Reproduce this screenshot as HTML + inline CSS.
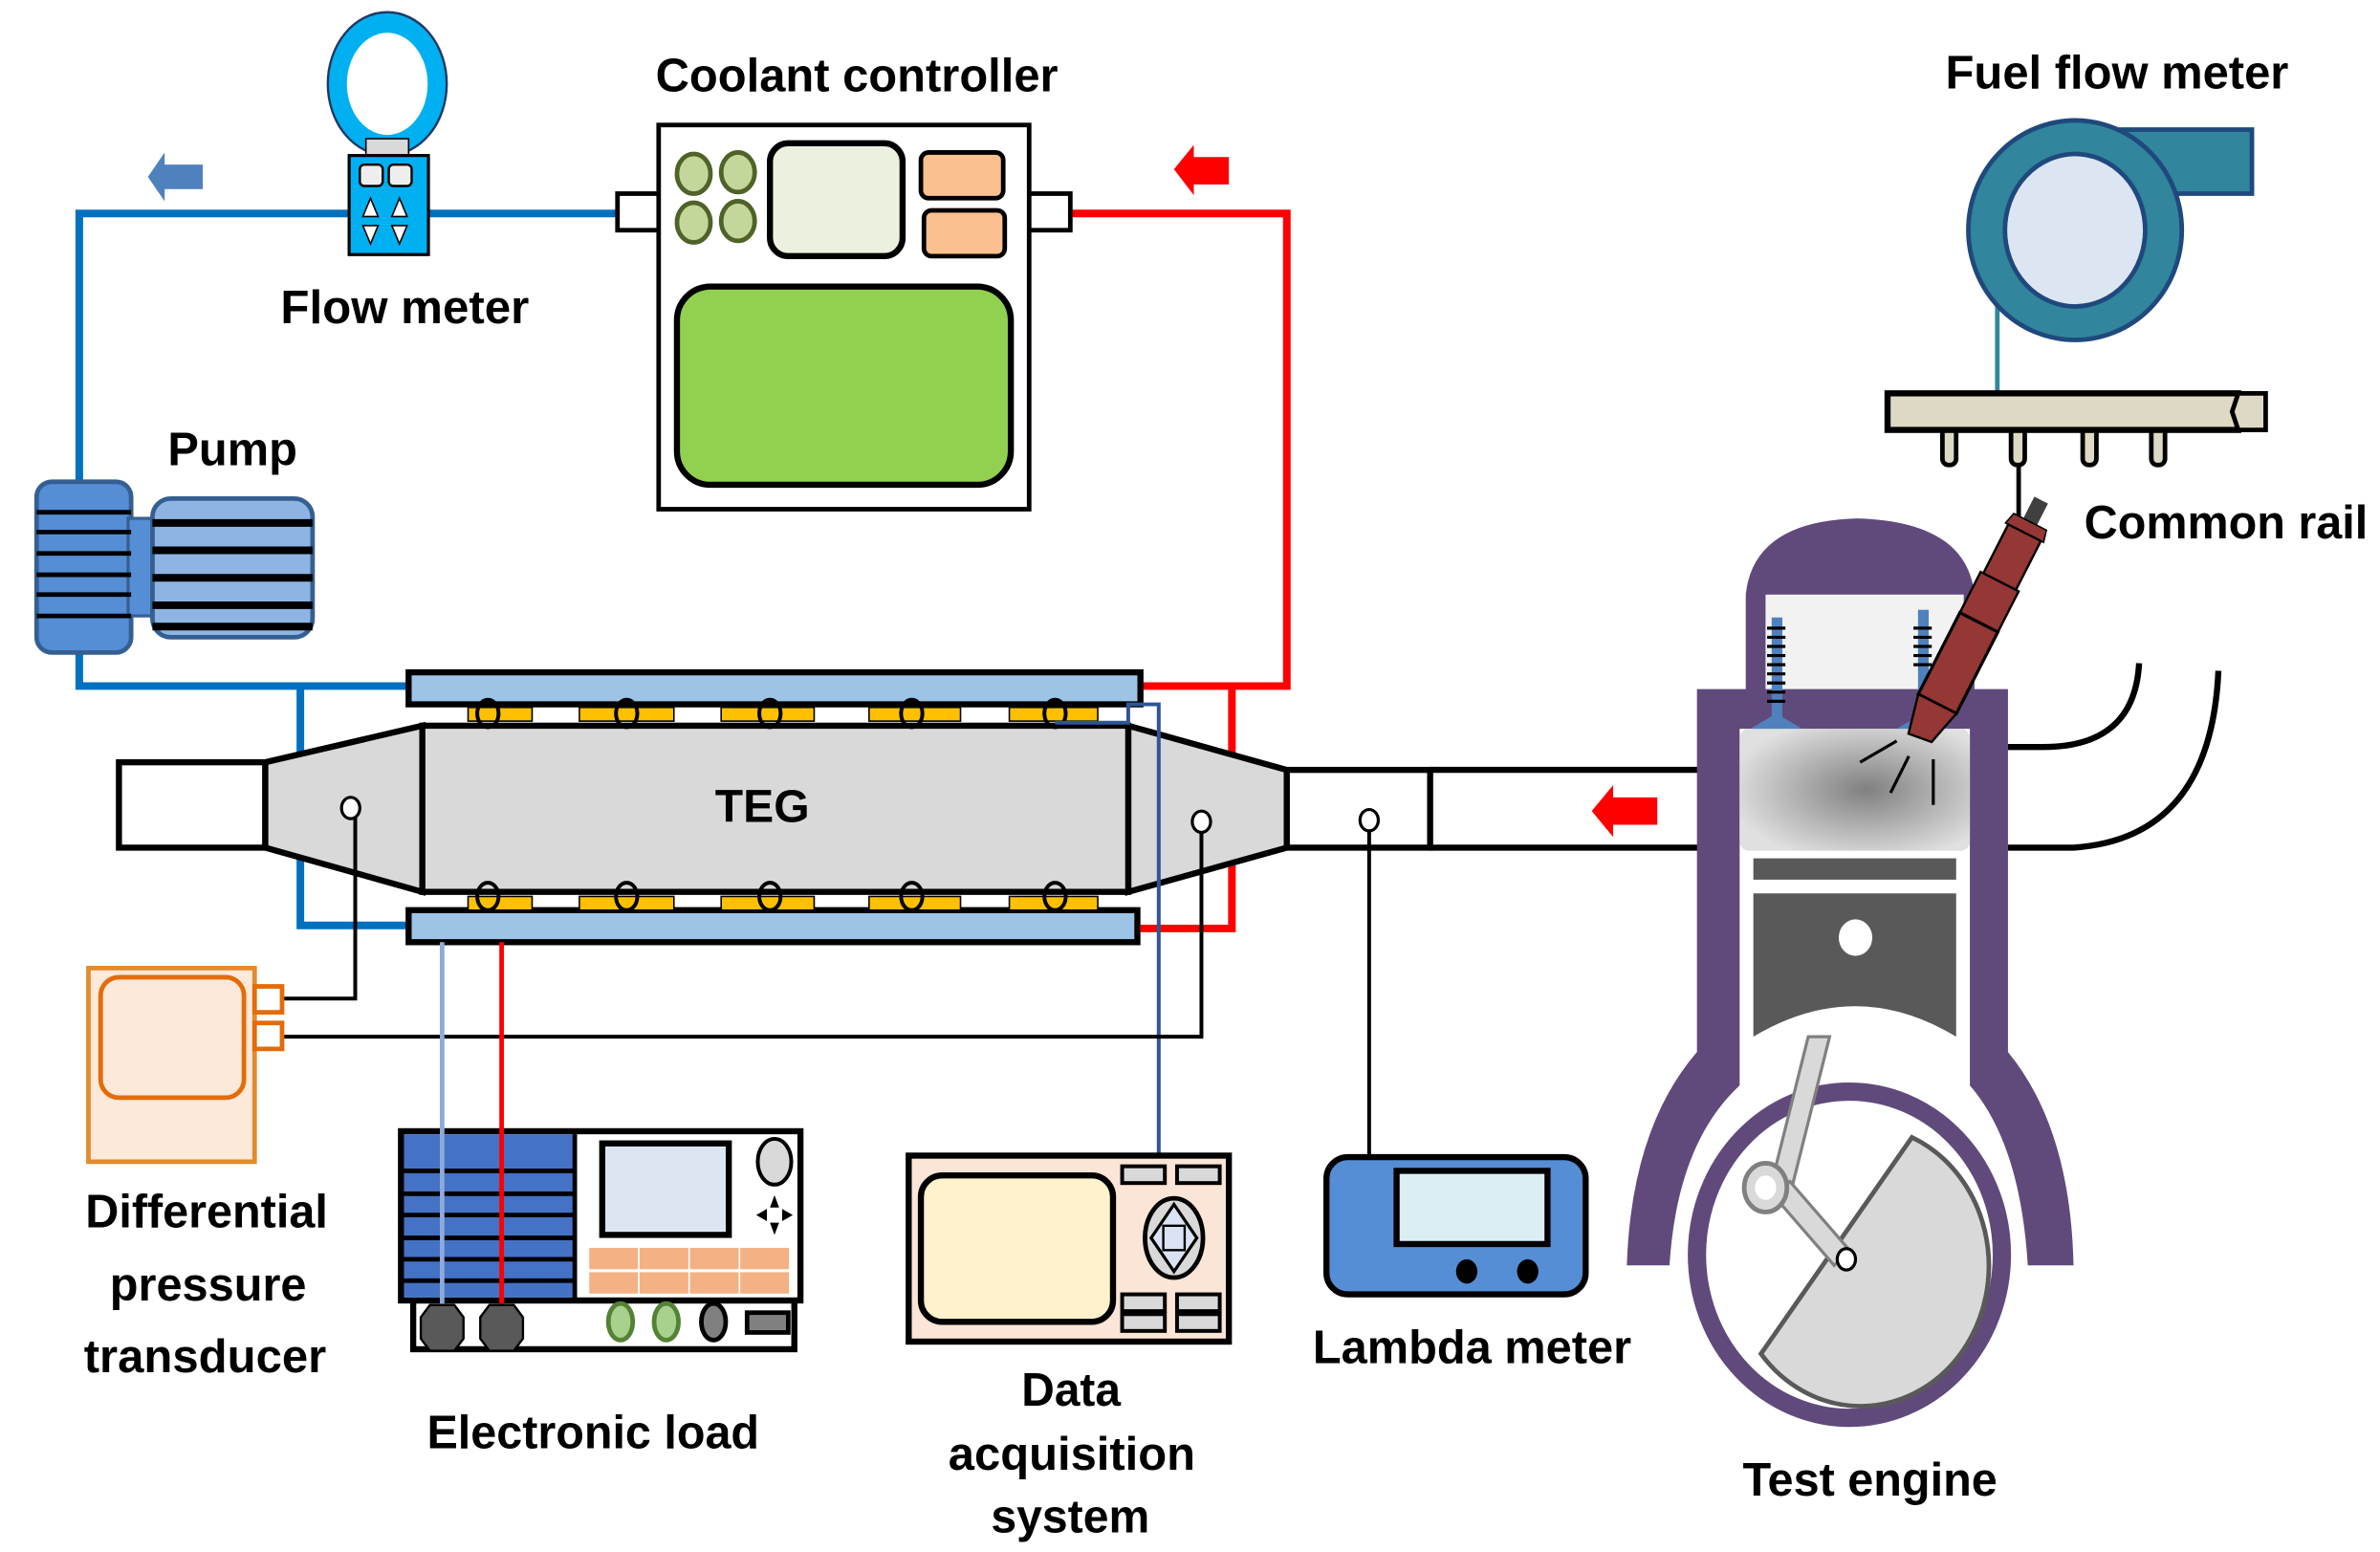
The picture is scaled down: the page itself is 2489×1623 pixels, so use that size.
<!DOCTYPE html>
<html><head><meta charset="utf-8"><style>html,body{margin:0;padding:0;background:#fff}svg{display:block}text{font-family:"Liberation Sans Narrow","Liberation Sans",sans-serif;font-weight:bold;fill:#000}</style></head><body>
<svg width="2489" height="1623" viewBox="0 0 1561 1018" preserveAspectRatio="none" xmlns="http://www.w3.org/2000/svg">
<defs><radialGradient id="cg" cx="0.55" cy="0.5" r="0.6"><stop offset="0" stop-color="#808080"/><stop offset="1" stop-color="#e0e0e0"/></radialGradient></defs>
<rect width="1561" height="1018" fill="#fff"/>
<g fill="none" stroke="#0070c0" stroke-width="5">
<path d="M405 140 H52 V318"/><path d="M52 428 V450 H270"/><path d="M197 450 V607 H270"/>
</g>
<polygon points="97,116 108,100 108,108 133,108 133,124 108,124 108,132" fill="#4f81bd"/>
<g fill="none" stroke="#ff0000" stroke-width="5"><path d="M702 140 H844 V450 H748"/><path d="M808 450 V609 H748"/></g>
<polygon points="770,111 783,95 783,103 806,103 806,121 783,121 783,128" fill="#ff0000"/>
<ellipse cx="254" cy="55" rx="33" ry="40" fill="#fff" stroke="#00b0f0" stroke-width="13"/>
<ellipse cx="254" cy="55" rx="39" ry="47" fill="none" stroke="#1f3864" stroke-width="1.5"/>
<rect x="240" y="91" width="28" height="12" fill="#d9d9d9" stroke="#000" stroke-width="1"/>
<rect x="229" y="102" width="52" height="65" fill="#00b0f0" stroke="#000" stroke-width="2"/>
<rect x="236" y="108" width="15" height="14" rx="3" fill="#eee" stroke="#000" stroke-width="1.5"/><rect x="255" y="108" width="15" height="14" rx="3" fill="#eee" stroke="#000" stroke-width="1.5"/>
<g fill="#fff" stroke="#000" stroke-width="1"><polygon points="243,130 238,142 248,142"/><polygon points="262,130 257,142 267,142"/><polygon points="243,160 238,148 248,148"/><polygon points="262,160 257,148 267,148"/></g>
<rect x="24" y="316" width="62" height="112" rx="10" fill="#558ed5" stroke="#365f91" stroke-width="3"/>
<rect x="84" y="340" width="20" height="64" fill="#558ed5" stroke="#365f91" stroke-width="2"/>
<rect x="100" y="327" width="105" height="91" rx="12" fill="#8eb4e3" stroke="#365f91" stroke-width="3"/>
<g stroke="#000" stroke-width="3"><path d="M24 336H86M24 349H86M24 363H86M24 377H86M24 390H86M24 404H86"/></g>
<g stroke="#000" stroke-width="5"><path d="M100 343H205M100 361H205M100 379H205M100 397H205M100 411H205"/></g>
<rect x="405" y="127" width="30" height="24" fill="#fff" stroke="#000" stroke-width="3"/>
<rect x="672" y="127" width="30" height="24" fill="#fff" stroke="#000" stroke-width="3"/>
<rect x="432" y="82" width="243" height="252" fill="#fff" stroke="#000" stroke-width="3"/>
<g fill="#c4d79b" stroke="#4f6228" stroke-width="3"><ellipse cx="455" cy="114" rx="11" ry="13"/><ellipse cx="484" cy="113" rx="11" ry="13"/><ellipse cx="455" cy="146" rx="11" ry="13"/><ellipse cx="484" cy="145" rx="11" ry="13"/></g>
<rect x="505" y="94" width="87" height="74" rx="12" fill="#ebf1de" stroke="#000" stroke-width="4"/>
<rect x="604" y="100" width="54" height="30" rx="5" fill="#fac090" stroke="#000" stroke-width="3"/>
<rect x="606" y="138" width="53" height="30" rx="5" fill="#fac090" stroke="#000" stroke-width="3"/>
<rect x="444" y="188" width="219" height="130" rx="22" fill="#92d050" stroke="#000" stroke-width="4"/>
<rect x="78" y="500" width="96" height="56" fill="#fff" stroke="#000" stroke-width="4"/>
<polygon points="174,500 277,476 277,585 174,556" fill="#d9d9d9" stroke="#000" stroke-width="4"/>
<polygon points="740,476 844,505 844,556 740,585" fill="#d9d9d9" stroke="#000" stroke-width="4"/>
<rect x="844" y="505" width="94" height="51" fill="#fff" stroke="#000" stroke-width="4"/>
<path d="M938 505H1115M938 556H1115" stroke="#000" stroke-width="4"/>
<polygon points="1044,532 1058,515 1058,523 1087,523 1087,541 1058,541 1058,549" fill="#ff0000"/>
<rect x="268" y="441" width="480" height="21" fill="#9dc3e6" stroke="#000" stroke-width="4"/>
<rect x="268" y="597" width="478" height="21" fill="#9dc3e6" stroke="#000" stroke-width="4"/>
<g fill="#ffc000" stroke="#000" stroke-width="1"><rect x="307" y="464" width="42" height="9"/><rect x="380" y="464" width="62" height="9"/><rect x="473" y="464" width="61" height="9"/><rect x="570" y="464" width="60" height="9"/><rect x="662" y="464" width="58" height="9"/>
<rect x="307" y="588" width="42" height="9"/><rect x="380" y="588" width="62" height="9"/><rect x="473" y="588" width="61" height="9"/><rect x="570" y="588" width="60" height="9"/><rect x="662" y="588" width="58" height="9"/></g>
<rect x="277" y="476" width="463" height="109" fill="#d9d9d9" stroke="#000" stroke-width="4"/>
<g fill="none" stroke="#000" stroke-width="2.5"><ellipse cx="320" cy="468" rx="7" ry="9"/><ellipse cx="411" cy="468" rx="7" ry="9"/><ellipse cx="505" cy="468" rx="7" ry="9"/><ellipse cx="598" cy="468" rx="7" ry="9"/><ellipse cx="692" cy="468" rx="7" ry="9"/>
<ellipse cx="320" cy="588" rx="7" ry="9"/><ellipse cx="411" cy="588" rx="7" ry="9"/><ellipse cx="505" cy="588" rx="7" ry="9"/><ellipse cx="598" cy="588" rx="7" ry="9"/><ellipse cx="692" cy="588" rx="7" ry="9"/></g>
<path d="M692 474H740V462H760V758" fill="none" stroke="#2f5597" stroke-width="2.5"/>
<text x="500" y="539" font-size="30" text-anchor="middle" textLength="62" lengthAdjust="spacingAndGlyphs">TEG</text>
<path d="M185 655H233V535" fill="none" stroke="#000" stroke-width="2.5"/>
<path d="M185 680H788V545" fill="none" stroke="#000" stroke-width="2.5"/>
<path d="M898 538V758" stroke="#000" stroke-width="2.5"/>
<g fill="#fff" stroke="#000" stroke-width="2"><ellipse cx="230" cy="530" rx="6" ry="7"/><ellipse cx="788" cy="539" rx="6" ry="7"/><ellipse cx="898" cy="538" rx="6" ry="7"/></g>
<rect x="58" y="635" width="109" height="127" fill="#fde9d9" stroke="#e38b2d" stroke-width="3"/>
<rect x="66" y="641" width="94" height="79" rx="12" fill="#fde9d9" stroke="#e36c09" stroke-width="3"/>
<rect x="167" y="647" width="18" height="17" fill="#fff" stroke="#e36c09" stroke-width="3"/><rect x="167" y="671" width="18" height="17" fill="#fff" stroke="#e36c09" stroke-width="3"/>
<rect x="271" y="853" width="250" height="32" fill="#fff" stroke="#000" stroke-width="4"/>
<rect x="263" y="742" width="262" height="111" fill="#fff" stroke="#000" stroke-width="4"/>
<rect x="265" y="744" width="112" height="107" fill="#4472c4"/>
<g stroke="#000" stroke-width="3"><path d="M265 768H377M265 783H377M265 797H377M265 812H377M265 826H377M265 840H377M377 744V853"/></g>
<rect x="395" y="750" width="83" height="60" fill="#dce6f2" stroke="#000" stroke-width="4"/>
<ellipse cx="508" cy="762" rx="11" ry="15" fill="#d9d9d9" stroke="#000" stroke-width="2.5"/>
<g fill="#000"><polygon points="508,784 505,792 511,792"/><polygon points="508,810 505,802 511,802"/><polygon points="496,797 503,793 503,801"/><polygon points="520,797 513,793 513,801"/></g>
<g fill="#f4b183" stroke="#fff" stroke-width="1"><rect x="386" y="818" width="33" height="15"/><rect x="419" y="818" width="33" height="15"/><rect x="452" y="818" width="33" height="15"/><rect x="485" y="818" width="33" height="15"/><rect x="386" y="834" width="33" height="15"/><rect x="419" y="834" width="33" height="15"/><rect x="452" y="834" width="33" height="15"/><rect x="485" y="834" width="33" height="15"/></g>
<path d="M290 618V870" stroke="#8eaadb" stroke-width="3"/><path d="M329 618V870" stroke="#ff0000" stroke-width="3"/>
<g fill="#595959" stroke="#000" stroke-width="1.5"><polygon points="282,856 298,856 304,864 304,878 298,886 282,886 276,878 276,864"/><polygon points="321,856 337,856 343,864 343,878 337,886 321,886 315,878 315,864"/></g>
<g stroke-width="3"><ellipse cx="407" cy="867" rx="8" ry="12" fill="#a9d18e" stroke="#548235"/><ellipse cx="437" cy="867" rx="8" ry="12" fill="#a9d18e" stroke="#548235"/><ellipse cx="468" cy="867" rx="8" ry="12" fill="#808080" stroke="#000"/></g>
<rect x="490" y="861" width="27" height="13" fill="#808080" stroke="#000" stroke-width="3"/>
<rect x="596" y="758" width="210" height="122" fill="#fbe5d6" stroke="#000" stroke-width="4"/>
<rect x="604" y="771" width="126" height="96" rx="14" fill="#fff2cc" stroke="#000" stroke-width="4"/>
<g fill="#d9d9d9" stroke="#000" stroke-width="2.5"><rect x="736" y="765" width="28" height="11"/><rect x="772" y="765" width="28" height="11"/><rect x="736" y="849" width="28" height="11"/><rect x="772" y="849" width="28" height="11"/><rect x="736" y="862" width="28" height="11"/><rect x="772" y="862" width="28" height="11"/></g>
<ellipse cx="770" cy="812" rx="19" ry="26" fill="#d9d9d9" stroke="#000" stroke-width="3"/>
<polygon points="770,790 785,812 770,834 755,812" fill="#dae3f3" stroke="#000" stroke-width="2"/>
<rect x="763" y="804" width="14" height="16" fill="#dae3f3" stroke="#000" stroke-width="1.5"/>
<rect x="870" y="759" width="170" height="90" rx="14" fill="#558ed5" stroke="#000" stroke-width="4"/>
<rect x="916" y="768" width="99" height="48" fill="#dbeef4" stroke="#000" stroke-width="4"/>
<ellipse cx="962" cy="834" rx="7" ry="8"/><ellipse cx="1002" cy="834" rx="7" ry="8"/>
<path d="M1310 200V258" stroke="#31859c" stroke-width="3"/>
<rect x="1340" y="85" width="137" height="42" fill="#31859c" stroke="#1f497d" stroke-width="3"/>
<ellipse cx="1361" cy="151" rx="70" ry="72" fill="#31859c" stroke="#1f497d" stroke-width="3"/>
<ellipse cx="1361" cy="151" rx="46" ry="50" fill="#dce6f2" stroke="#1f497d" stroke-width="3"/>
<g fill="#ddd9c4" stroke="#000" stroke-width="3"><rect x="1274" y="280" width="9" height="25" rx="4"/><rect x="1319" y="280" width="9" height="25" rx="4"/><rect x="1366" y="280" width="9" height="25" rx="4"/><rect x="1411" y="280" width="9" height="25" rx="4"/></g>
<rect x="1238" y="258" width="230" height="24" fill="#ddd9c4" stroke="#000" stroke-width="4"/>
<polygon points="1468,258 1486,258 1486,282 1468,282 1464,270" fill="#ddd9c4" stroke="#000" stroke-width="3"/>
<path d="M1324 305V360" stroke="#000" stroke-width="3"/>
<path d="M1145 455V390Q1150 342 1218 340Q1290 342 1295 390V455Z" fill="#604a7b"/>
<rect x="1158" y="390" width="130" height="65" fill="#f2f2f2"/>
<path d="M1113 452H1317V690Q1358 740 1360 830H1330Q1325 750 1292 712V478H1141V712Q1100 750 1095 830H1067Q1070 740 1113 690Z" fill="#604a7b"/>
<rect x="1141" y="478" width="151" height="80" rx="6" fill="url(#cg)"/>
<rect x="1150" y="563" width="133" height="14" fill="#595959"/>
<path d="M1150 586H1283V680Q1217 640 1150 680Z" fill="#595959"/>
<ellipse cx="1217" cy="615" rx="11" ry="12" fill="#fff"/>
<ellipse cx="1213" cy="823" rx="100" ry="107" fill="#fff" stroke="#604a7b" stroke-width="12"/>
<path d="M1254 746A84 92 0 1 1 1155 888Z" fill="#d9d9d9" stroke="#595959" stroke-width="3"/>
<polygon points="1186,680 1200,680 1176,776 1163,772" fill="#d9d9d9" stroke="#808080" stroke-width="2"/>
<polygon points="1164,785 1174,775 1213,820 1203,830" fill="#d9d9d9" stroke="#808080" stroke-width="2"/>
<ellipse cx="1158" cy="779" rx="14" ry="16" fill="#d9d9d9" stroke="#808080" stroke-width="3"/>
<ellipse cx="1158" cy="779" rx="7" ry="8" fill="#fff"/>
<ellipse cx="1211" cy="826" rx="6" ry="7" fill="#fff" stroke="#000" stroke-width="2"/>
<g fill="#4f81bd"><rect x="1162" y="405" width="7" height="70"/><rect x="1258" y="400" width="7" height="75"/><polygon points="1148,478 1165,468 1182,478"/><polygon points="1244,478 1261,468 1278,478"/></g>
<g fill="none" stroke="#000" stroke-width="2"><path d="M1159 412h12M1159 418h12M1159 424h12M1159 430h12M1159 436h12M1159 442h12M1159 448h12M1159 454h12M1159 460h12"/><path d="M1255 412h12M1255 418h12M1255 424h12M1255 430h12M1255 436h12"/></g>
<g transform="translate(1297,410) rotate(27)">
<rect x="-5" y="-92" width="10" height="20" fill="#404040"/>
<polygon points="-12,-76 12,-76 14,-68 -14,-68" fill="#953735" stroke="#000" stroke-width="1"/>
<rect x="-12" y="-68" width="24" height="36" fill="#953735" stroke="#000" stroke-width="1.5"/>
<rect x="-14" y="-32" width="28" height="30" fill="#953735" stroke="#000" stroke-width="1.5"/>
<rect x="-14" y="-2" width="28" height="60" fill="#953735" stroke="#000" stroke-width="2"/>
<polygon points="-14,58 14,58 8,82 -8,84" fill="#953735" stroke="#000" stroke-width="1.5"/>
</g>
<g stroke="#000" stroke-width="2"><path d="M1244 486L1220 500M1252 496L1240 520M1268 498L1268 528"/></g>
<g fill="none" stroke="#000" stroke-width="4"><path d="M1317 490H1340Q1400 490 1403 435"/><path d="M1317 556H1360Q1450 550 1455 440"/></g>
<g font-size="31">
<text x="430" y="60" textLength="264" lengthAdjust="spacingAndGlyphs">Coolant controller</text>
<text x="184" y="212" textLength="163" lengthAdjust="spacingAndGlyphs">Flow meter</text>
<text x="110" y="305" textLength="85" lengthAdjust="spacingAndGlyphs">Pump</text>
<text x="1276" y="58" textLength="225" lengthAdjust="spacingAndGlyphs">Fuel flow meter</text>
<text x="1367" y="353" textLength="186" lengthAdjust="spacingAndGlyphs">Common rail</text>
<text x="56" y="805" textLength="159" lengthAdjust="spacingAndGlyphs">Differential</text>
<text x="72" y="853" textLength="129" lengthAdjust="spacingAndGlyphs">pressure</text>
<text x="55" y="900" textLength="159" lengthAdjust="spacingAndGlyphs">transducer</text>
<text x="280" y="950" textLength="218" lengthAdjust="spacingAndGlyphs">Electronic load</text>
<text x="670" y="922" textLength="65" lengthAdjust="spacingAndGlyphs">Data</text>
<text x="622" y="964" textLength="162" lengthAdjust="spacingAndGlyphs">acquisition</text>
<text x="650" y="1005" textLength="104" lengthAdjust="spacingAndGlyphs">system</text>
<text x="861" y="894" textLength="209" lengthAdjust="spacingAndGlyphs">Lambda meter</text>
<text x="1143" y="981" textLength="167" lengthAdjust="spacingAndGlyphs">Test engine</text>
</g>
</svg>
</body></html>
